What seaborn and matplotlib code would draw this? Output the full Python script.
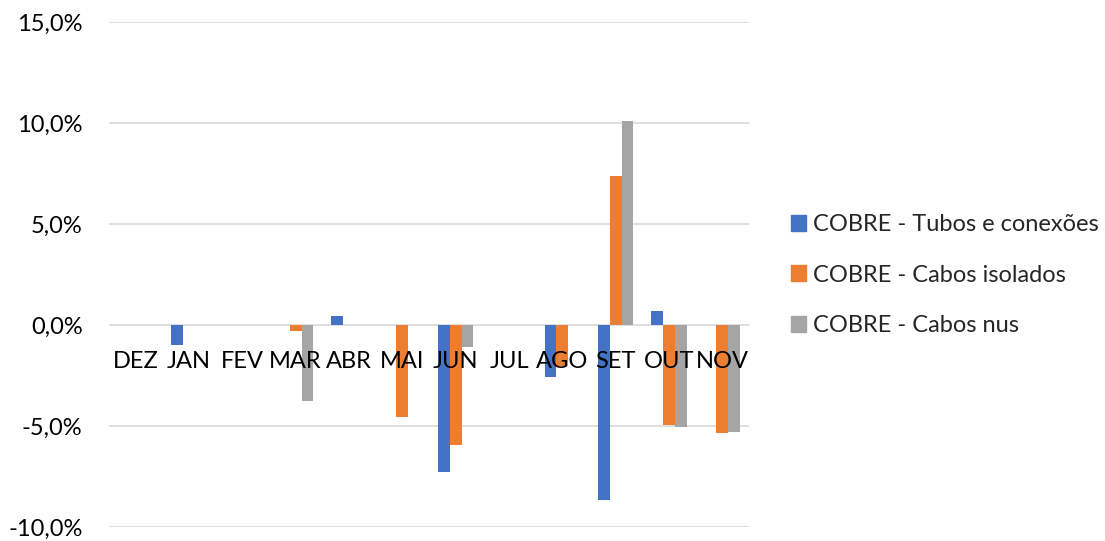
import numpy as np
import pandas as pd
import seaborn as sns
import matplotlib.pyplot as plt
from matplotlib.ticker import FuncFormatter

meses = ['DEZ', 'JAN', 'FEV', 'MAR', 'ABR', 'MAI', 'JUN', 'JUL', 'AGO', 'SET', 'OUT', 'NOV']
series = ['COBRE - Tubos e conexões', 'COBRE - Cabos isolados', 'COBRE - Cabos nus']

# variação mensal (%)
tubos = [0.0, -1.0, 0.0, 0.0, 0.45, 0.0, -7.3, 0.0, -2.55, -8.65, 0.7, 0.0]
isolados = [0.0, 0.0, 0.0, -0.3, 0.0, -4.55, -5.95, 0.0, -2.05, 7.4, -4.95, -5.35]
nus = [0.0, 0.0, 0.0, -3.75, 0.0, 0.0, -1.1, 0.0, 0.0, 10.1, -5.05, -5.3]

cores = ['#4472C4', '#ED7D31', '#A5A5A5']

df = pd.DataFrame({
    'mes': meses * 3,
    'serie': [series[0]] * 12 + [series[1]] * 12 + [series[2]] * 12,
    'valor': tubos + isolados + nus,
})

sns.set_style('white')
plt.rcParams['font.family'] = ['Lato', 'DejaVu Sans']

fig = plt.figure(figsize=(11.05, 5.41), dpi=100)
ax = fig.add_axes([109 / 1105, 1 - 527 / 541, 640 / 1105, 505 / 541])

sns.barplot(data=df, x='mes', y='valor', hue='serie', order=meses, hue_order=series,
            palette=cores, saturation=1, width=0.66, gap=0, linewidth=0,
            errorbar=None, ax=ax, zorder=3)

ax.set_ylim(-10, 15)
ax.set_xlim(-0.5, 11.5)
ax.set_yticks([-10, -5, 0, 5, 10, 15])
ax.yaxis.set_major_formatter(FuncFormatter(lambda v, p: f'{v:.1f}%'.replace('.', ',')))
ax.grid(axis='y', color='#D9D9D9', linewidth=1.2)
ax.set_axisbelow(True)
for s in ax.spines.values():
    s.set_visible(False)
ax.spines['bottom'].set_position(('data', 0))
ax.tick_params(axis='x', length=0, pad=19, labelsize=17, colors='black')
ax.tick_params(axis='y', length=0, pad=19, labelsize=17, colors='black')
ax.xaxis.set_zorder(10)  # rótulos dos meses por cima das barras
ax.set_xlabel('')
ax.set_ylabel('')

ax.legend_.remove()
handles = [plt.Rectangle((0, 0), 1, 1, color=c) for c in cores]
fig.legend(handles, series, loc='center left', bbox_to_anchor=(791 / 1105, 1 - 275 / 541),
           bbox_transform=fig.transFigure, frameon=False, fontsize=17,
           handlelength=0.65, handleheight=0.65, handletextpad=0.3, labelspacing=1.25,
           borderpad=0, borderaxespad=0)

fig.savefig('out.png', dpi=100)
